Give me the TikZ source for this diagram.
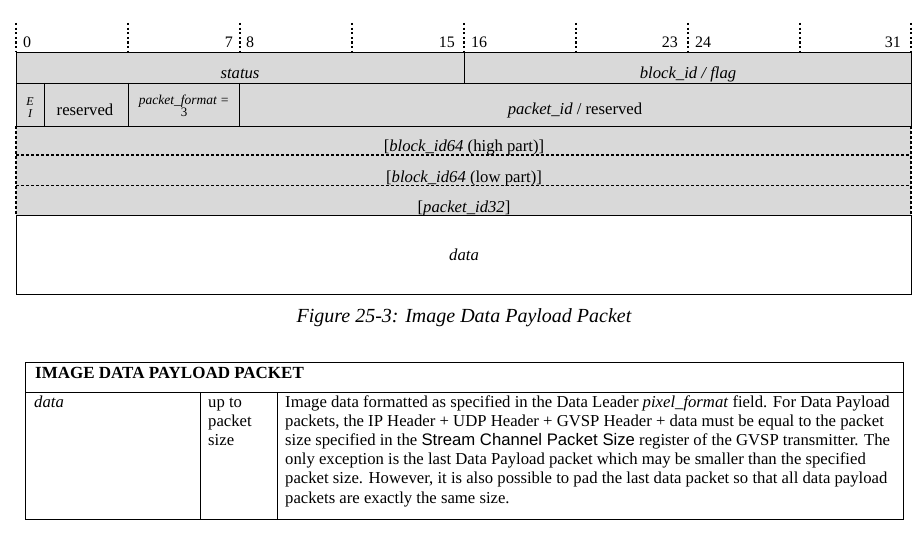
\documentclass[tikz,border=0pt]{standalone}
\usepackage{fontspec}
\setmainfont{Liberation Serif}
\setsansfont{Liberation Sans}
\usetikzlibrary{positioning}
\definecolor{fieldgray}{RGB}{217,217,217}

\tikzset{
  bitmark/.style={line width=1.8pt, dash pattern=on 2.3pt off 2.3pt},
  field/.style={fill=fieldgray},
  edge/.style={line width=0.9pt},
  optrow/.style={line width=1.5pt, dash pattern=on 3pt off 2pt},
  optrowthin/.style={line width=1pt, dash pattern=on 3pt off 2pt},
  txt/.style={inner sep=0pt, anchor=base, font=\fontsize{16.7}{19.2}\selectfont},
  small/.style={inner sep=0pt, anchor=base, font=\fontsize{12}{13}\selectfont\itshape},
  bitnum/.style={inner sep=0pt, font=\fontsize{16}{18}\selectfont},
}

\begin{document}
\begin{tikzpicture}[x=1pt, y=-1pt]
    \useasboundingbox (0,0) rectangle (924,535);

    % Bit ruler
    \foreach \x in {16,128,240,352,464,576,688,800,911}
        \draw[bitmark] (\x,23) -- (\x,52);
    \node[bitnum, anchor=base west] (b0) at (23,48) {0};
    \node[bitnum, anchor=base east] (b7) at (233,48) {7};
    \node[bitnum, anchor=base west] (b8) at (246,48) {8};
    \node[bitnum, anchor=base east] (b15) at (455,48) {15};
    \node[bitnum, anchor=base west] (b16) at (471,48) {16};
    \node[bitnum, anchor=base east] (b23) at (678,48) {23};
    \node[bitnum, anchor=base west] (b24) at (695,48) {24};
    \node[bitnum, anchor=base east] (b31) at (901,48) {31};

    % Gray fields
    \fill[field] (16,52) rectangle (911,215);

    % Row 1
    \draw[edge] (16,52) rectangle (911,83);
    \draw[edge] (464,52) -- (464,83);
    \node[txt] (status) at (240,79) {\itshape status};
    \node[txt] (blockid) at (688,78) {\itshape block\_id / flag};

    % Row 2
    \draw[edge] (16,83) rectangle (911,126);
    \draw[edge] (44,83) -- (44,126);
    \draw[edge] (128,83) -- (128,126);
    \draw[edge] (239,83) -- (239,126);
    \node[small] (ei1) at (30,106) {E};
    \node[small] (ei2) at (30,117.5) {I};
    \node[txt] (res) at (85,115) {reserved};
    \node[small, font=\fontsize{13.5}{14}\selectfont\itshape] (pf1) at (184,104) {packet\_format =};
    \node[small, font=\fontsize{13}{14}\selectfont] (pf2) at (184,116.5) {3};
    \node[txt] (pid) at (575,114.5) {\itshape packet\_id \upshape/ reserved};

    % Optional rows
    \draw[optrow] (16,126) -- (16,215);
    \draw[optrow] (911,126) -- (911,215);
    \draw[optrow] (16,155) -- (911,155);
    \draw[optrowthin] (16,185) -- (911,185);
    \node[txt] (high) at (464,151) {[\textit{block\_id64} (high part)]};
    \node[txt] (low) at (464,182) {[\textit{block\_id64} (low part)]};
    \node[txt] (pid32) at (464,212) {[\textit{packet\_id32}]};

    % Data
    \draw[edge] (16,215) rectangle (911,294);
    \node[txt] (data) at (464,260) {\itshape data};

    % Caption
    \node[txt, font=\fontsize{20}{24}\selectfont\itshape] (cap) at (464,322) {Figure 25-3: Image Data Payload Packet};

    % Table
    \draw[edge] (25,362) rectangle (903,519);
    \draw[edge] (25,392) -- (903,392);
    \draw[edge] (200,392) -- (200,519);
    \draw[edge] (277,392) -- (277,519);
    \node[txt, anchor=base west, font=\fontsize{17}{19.2}\selectfont\bfseries] (head) at (35,378) {IMAGE DATA PAYLOAD PACKET};
    \node[txt, anchor=base west] (fname) at (34,407) {\itshape data};
    \node[txt, anchor=base west, align=left] (fsize) at (208,445.4) {up to\\packet\\size};
    \node[txt, anchor=base west, align=left] (fdesc) at (285,503)
      {Image data formatted as specified in the Data Leader \textit{pixel\_format} field. For Data Payload\\
       packets, the IP Header + UDP Header + GVSP Header + data must be equal to the packet\\
       size specified in the {\sffamily Stream Channel Packet Size} register of the GVSP transmitter. The\\
       only exception is the last Data Payload packet which may be smaller than the specified\\
       packet size. However, it is also possible to pad the last data packet so that all data payload\\
       packets are exactly the same size.};
\end{tikzpicture}
\end{document}
